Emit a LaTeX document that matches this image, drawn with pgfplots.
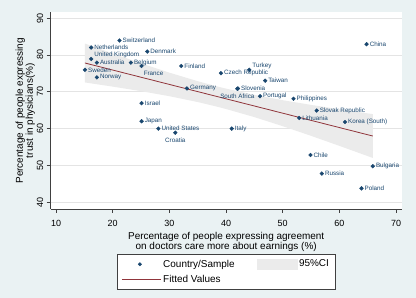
\documentclass[border=0pt]{standalone}
\usepackage{pgfplots}
\pgfplotsset{compat=1.18}
\usepackage{fontspec}
\setmainfont{Liberation Sans}

\definecolor{stnavy}{RGB}{26,71,111}
\definecolor{stmaroon}{RGB}{144,53,59}
\definecolor{stbg}{RGB}{234,242,243}
\definecolor{cigray}{RGB}{235,235,235}
\definecolor{gridc}{RGB}{228,228,228}

\newcommand{\labfont}{\fontsize{6.3}{7}\selectfont}

\begin{document}
\begin{tikzpicture}[x=1bp,y=1bp]
% graph region
\fill[stbg] (0,0) rectangle (416,298);
\begin{axis}[
  at={(50.7bp,89bp)}, anchor=south west,
  scale only axis, width=351bp, height=196.5bp,
  xmin=9.06, xmax=71, ymin=38.2, ymax=91.5,
  axis background/.style={fill=white},
  axis x line*=bottom, axis y line*=left,
  axis line style={black!75, line width=0.6bp},
  xtick={10,20,...,70}, ytick={40,50,...,90},
  tick align=outside, major tick length=4bp,
  tick style={black!75, line width=0.6bp},
  /pgf/number format/assume math mode=true,
  ticklabel style={font=\fontsize{9}{9}\selectfont},
  xticklabel style={yshift=-4bp},
  yticklabel style={rotate=90, anchor=south},
  ymajorgrids, grid style={gridc, line width=0.6bp},
  xlabel={Percentage of people expressing agreement\\on doctors care more about earnings (\%)},
  xlabel style={align=center, font=\fontsize{10}{10}\selectfont,
    at={(axis description cs:0.5,-0.1)}, anchor=north},
  ylabel={Percentage of people expressing\\trust in physicians(\%)},
  ylabel style={align=center, font=\fontsize{10}{10}\selectfont},
  ylabel shift=-5bp,
  legend style={at={(0.5,-0.23)}, anchor=north, legend columns=2,
    draw=black!75, fill=white, font=\fontsize{10}{12}\selectfont,
    inner xsep=4bp, inner ysep=3.5bp, row sep=2.5bp,
    /tikz/every even column/.style={column sep=20bp}},
  legend cell align=left,
]
% 95% confidence band of the linear fit
\addplot[fill=cigray, draw=none, forget plot] coordinates {
  (15.1,83.07) (20,80.38) (25,77.71) (30,75.18) (35,72.86) (38.5,71.41)
  (40,70.85) (45,69.15) (50,67.71) (55,66.43) (60,65.25) (65.9,63.93)
  (65.9,52.05) (60,55.33) (55,58.05) (50,60.67) (45,63.13) (40,65.33)
  (38.5,65.93) (35,67.22) (30,68.80) (25,70.17) (20,71.40) (15.1,72.53)
} -- cycle;

% fitted values
\addplot[stmaroon, line width=0.8bp, forget plot] coordinates {(15.1,77.8) (65.9,57.99)};

% countries labelled at 3 o'clock
\addplot[only marks, mark=*, mark size=1.9bp, stnavy, forget plot,
  point meta=explicit symbolic, nodes near coords,
  every node near coord/.append style={anchor=west, xshift=2.5bp, font=\labfont, text=stnavy, inner sep=0.5bp}]
  table[col sep=comma, meta=name] {
x,y,name
21.2,83.9,Switzerland
16.2,82.0,Netherlands
17.2,77.9,Australia
23.2,77.9,Belgium
26.1,80.9,Denmark
15.1,75.95,Sweden
17.2,73.9,Norway
32.1,77.0,Finland
39.1,75.05,Czech Republic
33.1,70.9,Germany
25.1,66.9,Israel
64.8,82.9,China
46.9,73.0,Taiwan
42.1,70.9,Slovenia
46.0,68.8,Portugal
51.9,68.1,Philippines
25.1,62.0,Japan
28.05,60.0,United States
41.0,60.0,Italy
56.0,64.9,Slovak Republic
52.9,62.9,Lithuania
61.0,61.8,Korea (South)
54.9,52.85,Chile
65.9,49.8,Bulgaria
56.9,47.8,Russia
63.9,43.8,Poland
};

% countries labelled at 2 o'clock
\addplot[only marks, mark=*, mark size=1.9bp, stnavy, forget plot,
  point meta=explicit symbolic, nodes near coords,
  every node near coord/.append style={anchor=west, xshift=2.5bp, yshift=4.3bp, font=\labfont, text=stnavy, inner sep=0.5bp}]
  table[col sep=comma, meta=name] {
x,y,name
16.2,78.9,United Kingdom
44.1,75.95,Turkey
};

% countries labelled at 5 o'clock
\addplot[only marks, mark=*, mark size=1.9bp, stnavy, forget plot,
  point meta=explicit symbolic, nodes near coords,
  every node near coord/.append style={anchor=west, xshift=1.5bp, yshift=-7bp, font=\labfont, text=stnavy, inner sep=0.5bp}]
  table[col sep=comma, meta=name] {
x,y,name
25.1,77.0,France
};

% countries labelled at 6 o'clock
\addplot[only marks, mark=*, mark size=1.9bp, stnavy, forget plot,
  point meta=explicit symbolic, nodes near coords,
  every node near coord/.append style={anchor=center, yshift=-7.7bp, font=\labfont, text=stnavy, inner sep=0.5bp}]
  table[col sep=comma, meta=name] {
x,y,name
42.0,70.8,South Africa
31.05,58.9,Croatia
};

% legend keys
\addlegendimage{stnavy, legend image code/.code={\fill[white, opacity=0] (0bp,-1bp) rectangle (39bp,1bp); \fill[stnavy] (18bp,0bp) circle (1.7bp);}}
\addlegendentry{Country/Sample}
\addlegendimage{cigray, legend image code/.code={\fill[cigray] (0bp,-5bp) rectangle (40bp,5bp);}}
\addlegendentry{95\%CI}
\addlegendimage{stmaroon, legend image code/.code={\draw[stmaroon, line width=0.8bp] (0bp,0bp) -- (39bp,0bp);}}
\addlegendentry{Fitted Values}
\end{axis}
\end{tikzpicture}
\end{document}
